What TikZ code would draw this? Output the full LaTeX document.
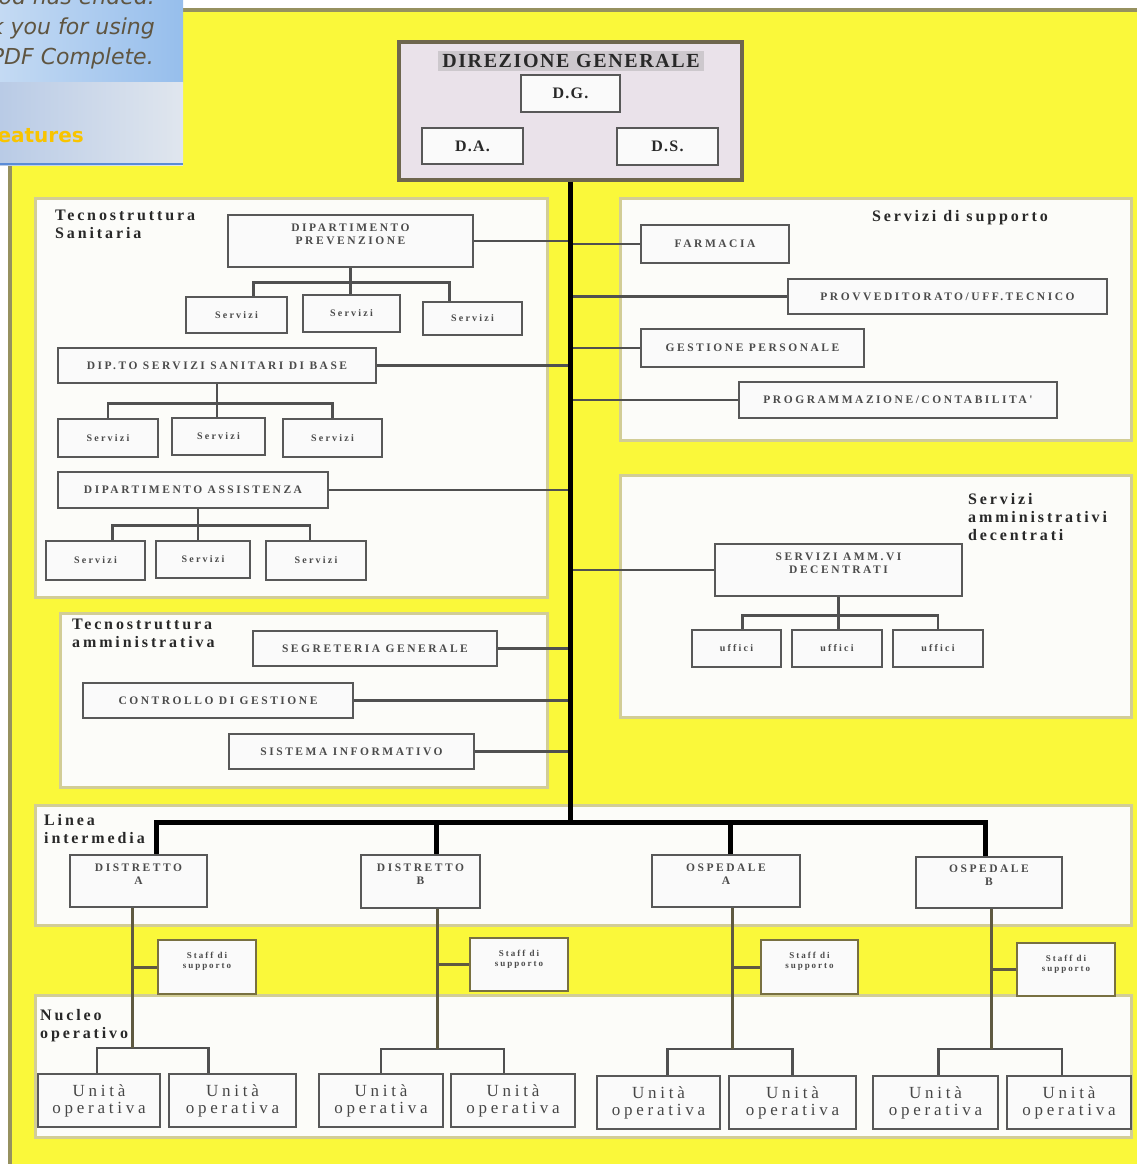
\documentclass[tikz,border=0pt]{standalone}
\usepackage{fontspec}
\setmainfont{Liberation Serif}
\newfontfamily\boxfont[LetterSpace=22]{Liberation Serif}
\newfontfamily\headfont[LetterSpace=18]{Liberation Serif}
\newfontfamily\bigfont[LetterSpace=8]{Liberation Serif}
\newfontfamily\unitfont[LetterSpace=22]{Liberation Serif}
\newfontfamily\adfont{DejaVu Sans}
\usetikzlibrary{calc}

\definecolor{bgyellow}{RGB}{250,248,58}
\definecolor{frameolive}{RGB}{150,145,95}
\definecolor{panelline}{RGB}{210,205,150}
\definecolor{panelfill}{RGB}{252,252,249}
\definecolor{boxline}{RGB}{88,88,88}
\definecolor{boxfill}{RGB}{250,250,250}
\definecolor{boxtext}{RGB}{75,75,75}
\definecolor{unittext}{RGB}{70,70,70}
\definecolor{titletext}{RGB}{40,40,40}
\definecolor{linkcol}{RGB}{80,80,80}
\definecolor{stemcol}{RGB}{95,90,65}
\definecolor{staffline}{RGB}{120,112,65}
\definecolor{dgfill}{RGB}{234,226,234}
\definecolor{dgline}{RGB}{110,102,78}
\definecolor{dgband}{RGB}{205,200,205}
\definecolor{adblueA}{RGB}{196,218,243}
\definecolor{adblueB}{RGB}{150,190,236}
\definecolor{adgreyA}{RGB}{185,203,230}
\definecolor{adgreyB}{RGB}{224,230,238}
\definecolor{adtext}{RGB}{95,85,65}
\definecolor{adgold}{RGB}{248,196,0}
\definecolor{adedge}{RGB}{90,140,215}

% box from (x1,y1) to (x2,y2) in pixel units
\newcommand\obx[7][]{%
  \node[obox,#1,minimum width={#5-#3},minimum height={#6-#4}] (#2)
    at ({(#3+#5)/2},{(#4+#6)/2}) {#7};}

\begin{document}
\begin{tikzpicture}[x=1pt,y=-1pt,
  panel/.style={draw=panelline,line width=3pt,fill=panelfill},
  obox/.style={draw=boxline,line width=2.5pt,fill=boxfill,text=boxtext,
    inner sep=0pt,align=center,font=\boxfont\bfseries\fontsize{11.5}{13}\selectfont},
  twoline/.style={text depth=14pt},
  small/.style={font=\boxfont\bfseries\fontsize{10}{12}\selectfont},
  staff/.style={draw=staffline,font=\boxfont\bfseries\fontsize{9}{10}\selectfont,text depth=13pt},
  unit/.style={font=\unitfont\fontsize{17}{17}\selectfont,text=unittext},
  link/.style={draw=linkcol,line width=2.5pt},
  spine/.style={draw=black,line width=5pt},
  stem/.style={draw=stemcol,line width=3pt},
  ttl/.style={font=\headfont\bfseries\fontsize{16}{18}\selectfont,text=titletext,
    align=left,anchor=north west,inner sep=0pt},
  adtxt/.style={font=\adfont\itshape\fontsize{22}{26}\selectfont,text=adtext,
    anchor=base east,inner sep=0pt}]

\useasboundingbox (0,0) rectangle (1137,1164);
\fill[white] (0,0) rectangle (1137,1164);
\draw[fill=bgyellow,draw=frameolive,line width=4pt] (10,10) rectangle (1160,1190);

% ---------- panels ----------
\draw[panel] (35,198) rectangle (547,597);
\draw[panel] (60,613) rectangle (547,787);
\draw[panel] (620,198) rectangle (1131,440);
\draw[panel] (620,475) rectangle (1131,717);
\draw[panel] (35,805) rectangle (1131,925);
\draw[panel] (35,995) rectangle (1131,1137);

% ---------- panel titles ----------
\node[ttl] (tsan) at (55,210) {Tecnostruttura\\Sanitaria};
\node[ttl] (tamm) at (72,619) {Tecnostruttura\\amministrativa};
\node[ttl,anchor=north] (tsup) at (960,210) {Servizi di supporto};
\node[ttl] (tdec) at (968,493) {Servizi\\amministrativi\\decentrati};
\node[ttl] (tlin) at (44,814) {Linea\\intermedia};
\node[ttl] (tnuc) at (40,1009) {Nucleo\\operativo};

% ---------- general management ----------
\node[draw=dgline,line width=4pt,fill=dgfill,minimum width=343,minimum height=137] (dg) at (570,111) {};
\node[fill=dgband,inner xsep=4pt,inner ysep=3pt,text=titletext,
  font=\bigfont\bfseries\fontsize{20}{22}\selectfont] (dgt) at (571,61) {DIREZIONE GENERALE};
\obx[font=\bigfont\bfseries\fontsize{16}{18}\selectfont,text=titletext]{dgb}{521}{75}{620}{112}{D.G.}
\obx[font=\bigfont\bfseries\fontsize{16}{18}\selectfont,text=titletext]{dab}{422}{128}{523}{164}{D.A.}
\obx[font=\bigfont\bfseries\fontsize{16}{18}\selectfont,text=titletext]{dsb}{617}{128}{718}{165}{D.S.}

\coordinate (spine) at (570,0);
\coordinate (barL) at (156,822);
\coordinate (barR) at (985,822);
\coordinate (barM) at (570,822);

% ---------- left: health technostructure ----------
\obx[twoline]{dp}{228}{215}{473}{267}{DIPARTIMENTO\\PREVENZIONE}
\obx[small]{s1}{186}{297}{287}{333}{Servizi}
\obx[small]{s2}{303}{295}{400}{332}{Servizi}
\obx[small]{s3}{423}{302}{522}{335}{Servizi}
\obx{dsab}{58}{348}{376}{383}{DIP.TO SERVIZI SANITARI DI BASE}
\obx[small]{s4}{58}{419}{158}{457}{Servizi}
\obx[small]{s5}{172}{418}{265}{455}{Servizi}
\obx[small]{s6}{283}{419}{382}{457}{Servizi}
\obx{das}{58}{472}{328}{508}{DIPARTIMENTO ASSISTENZA}
\obx[small]{s7}{46}{541}{145}{580}{Servizi}
\obx[small]{s8}{156}{541}{250}{578}{Servizi}
\obx[small]{s9}{266}{541}{366}{580}{Servizi}

\draw[link] (dp.south) -- ++(0,14) coordinate (t1);
\draw[link] ([xshift=17]s1.north) |- (t1) -| ([xshift=-23]s3.north);
\draw[link] (t1) -- (t1 |- s2.north);
\draw[link] (dsab.south) -- ++(0,19) coordinate (t2);
\draw[link] (s4.north) |- (t2) -| (s6.north);
\draw[link] (t2) -- (t2 |- s5.north);
\draw[link] ([xshift=5]das.south) -- ++(0,16) coordinate (t3);
\draw[link] ([xshift=17]s7.north) |- (t3) -| ([xshift=-6]s9.north);
\draw[link] (t3) -- (t3 |- s8.north);

\draw[link] (dp.east) -- (dp.east -| spine);
\draw[link] (dsab.east) -- (dsab.east -| spine);
\draw[link] (das.east) -- (das.east -| spine);

% ---------- left: administrative technostructure ----------
\obx{sg}{253}{631}{497}{666}{SEGRETERIA GENERALE}
\obx{cg}{83}{683}{353}{718}{CONTROLLO DI GESTIONE}
\obx{si}{229}{734}{474}{769}{SISTEMA INFORMATIVO}
\draw[link] (sg.east) -- (sg.east -| spine);
\draw[link] (cg.east) -- (cg.east -| spine);
\draw[link] (si.east) -- (si.east -| spine);

% ---------- right: support services ----------
\obx{fa}{641}{225}{789}{263}{FARMACIA}
\obx{pv}{788}{279}{1107}{314}{PROVVEDITORATO/UFF.TECNICO}
\obx{gp}{641}{329}{864}{367}{GESTIONE PERSONALE}
\obx{pc}{739}{382}{1057}{418}{PROGRAMMAZIONE/CONTABILITA'}
\draw[link] (fa.west -| spine) -- (fa.west);
\draw[link] (pv.west -| spine) -- (pv.west);
\draw[link] (gp.west -| spine) -- (gp.west);
\draw[link] (pc.west -| spine) -- (pc.west);

% ---------- right: decentralised administration ----------
\obx[twoline]{sa}{715}{544}{962}{596}{SERVIZI AMM.VI\\DECENTRATI}
\obx[small]{u1}{692}{630}{781}{667}{uffici}
\obx[small]{u2}{792}{630}{882}{667}{uffici}
\obx[small]{u3}{893}{630}{983}{667}{uffici}
\draw[link] (sa.west -| spine) -- (sa.west);
\draw[link] (sa.south) -- ++(0,18) coordinate (t4);
\draw[link] ([xshift=6]u1.north) |- (t4) -| (u3.north);
\draw[link] (t4) -- (t4 |- u2.north);

% ---------- main line ----------
\draw[spine] (dg.south) -- (barM);
\draw[spine,line cap=rect] (barL) -- (barR);

% ---------- middle line ----------
\obx[twoline]{dA}{70}{855}{207}{907}{DISTRETTO\\A}
\obx[twoline]{dB}{361}{855}{480}{908}{DISTRETTO\\B}
\obx[twoline]{oA}{652}{855}{800}{907}{OSPEDALE\\A}
\obx[twoline]{oB}{916}{857}{1062}{908}{OSPEDALE\\B}
\draw[spine] (barL) -- (barL |- dA.north);
\draw[spine] ([xshift=15.5]dB.north |- barL) -- ([xshift=15.5]dB.north);
\draw[spine] ([xshift=4]oA.north |- barL) -- ([xshift=4]oA.north);
\draw[spine] ([xshift=-4]oB.north |- barL) -- ([xshift=-4]oB.north);

% ---------- staff ----------
\obx[staff]{st1}{158}{940}{256}{994}{Staff di\\supporto}
\obx[staff]{st2}{470}{938}{568}{991}{Staff di\\supporto}
\obx[staff]{st3}{761}{940}{858}{994}{Staff di\\supporto}
\obx[staff]{st4}{1017}{943}{1115}{996}{Staff di\\supporto}

% ---------- operating core ----------
\obx[unit]{n1}{38}{1074}{160}{1127}{Unità\\operativa}
\obx[unit]{n2}{169}{1074}{296}{1127}{Unità\\operativa}
\obx[unit]{n3}{319}{1074}{443}{1127}{Unità\\operativa}
\obx[unit]{n4}{451}{1074}{575}{1127}{Unità\\operativa}
\obx[unit]{n5}{597}{1076}{720}{1129}{Unità\\operativa}
\obx[unit]{n6}{729}{1076}{856}{1129}{Unità\\operativa}
\obx[unit]{n7}{873}{1076}{998}{1129}{Unità\\operativa}
\obx[unit]{n8}{1007}{1076}{1131}{1129}{Unità\\operativa}

\draw[link] ([xshift=-2]n1.north) -- ++(0,-25) coordinate (k1) -| ([xshift=-24]n2.north);
\draw[link] (n3.north) -- ++(0,-24) coordinate (k2) -| ([xshift=-9]n4.north);
\draw[link] ([xshift=9]n5.north) -- ++(0,-26) coordinate (k3) -| (n6.north);
\draw[link] ([xshift=3]n7.north) -- ++(0,-26) coordinate (k4) -| ([xshift=-7]n8.north);

% stems from the middle line down to the units
\draw[stem] ([xshift=-6.5]dA.south) -- ([xshift=-6.5]dA.south |- k1);
\draw[stem] ([xshift=16.5]dB.south) -- ([xshift=16.5]dB.south |- k2);
\draw[stem] ([xshift=6]oA.south) -- ([xshift=6]oA.south |- k3);
\draw[stem] ([xshift=2]oB.south) -- ([xshift=2]oB.south |- k4);
\draw[stem] ([xshift=-6.5]dA.south |- st1.west) -- (st1.west);
\draw[stem] ([xshift=16.5]dB.south |- st2.west) -- (st2.west);
\draw[stem] ([xshift=6]oA.south |- st3.west) -- (st3.west);
\draw[stem] ([xshift=2]oB.south |- st4.west) -- (st4.west);

% ---------- software notice in the corner ----------
\begin{scope}
  \clip (0,0) rectangle (183,165);
  \shade[left color=adblueA,right color=adblueB] (0,0) rectangle (183,82);
  \shade[left color=adgreyA,right color=adgreyB] (0,82) rectangle (183,165);
  \node[adtxt] (ad1) at (155,5) {use period has ended.};
  \node[adtxt] (ad2) at (155,35) {Thank you for using};
  \node[adtxt] (ad3) at (154,65) {PDF Complete.};
  \node[adtxt,font=\adfont\bfseries\fontsize{20}{24}\selectfont,text=adgold] (ad4) at (84,142) {Expanded Features};
  \draw[adedge,line width=2pt] (0,164) -- (183,164);
\end{scope}
\end{tikzpicture}
\end{document}
